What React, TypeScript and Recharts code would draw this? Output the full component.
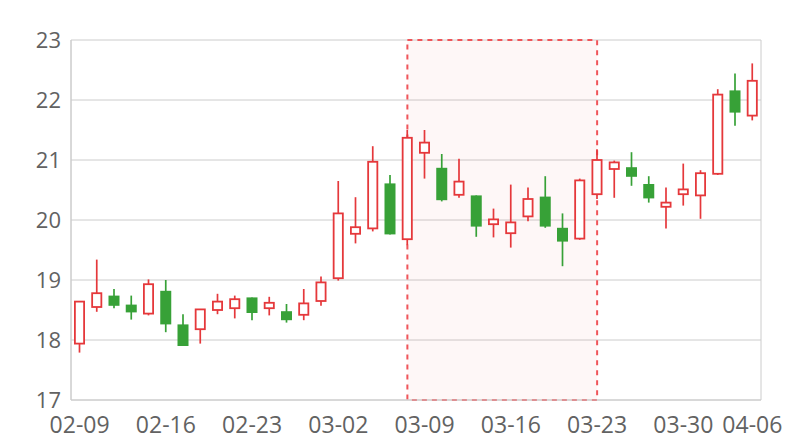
import { ComposedChart, Bar, XAxis, YAxis, CartesianGrid, ReferenceArea } from "recharts";

const dates = [
  "02-09", "02-10", "02-11", "02-12", "02-13",
  "02-16", "02-17", "02-18", "02-19", "02-20",
  "02-23", "02-24", "02-25", "02-26", "02-27",
  "03-02", "03-03", "03-04", "03-05", "03-06",
  "03-09", "03-10", "03-11", "03-12", "03-13",
  "03-16", "03-17", "03-18", "03-19", "03-20",
  "03-23", "03-24", "03-25", "03-26", "03-27",
  "03-30", "03-31", "04-01", "04-02", "04-06",
];

const open = [17.94, 18.55, 18.74, 18.59, 18.44, 18.82, 18.26, 18.18, 18.5, 18.53, 18.71, 18.53, 18.48, 18.42, 18.65, 19.03, 19.77, 19.86, 20.61, 19.68, 21.12, 20.87, 20.42, 20.41, 19.93, 19.78, 20.06, 20.39, 19.87, 19.69, 20.43, 20.85, 20.88, 20.6, 20.22, 20.43, 20.41, 20.77, 22.16, 21.74];
const close = [18.64, 18.78, 18.57, 18.46, 18.93, 18.26, 17.9, 18.51, 18.64, 18.68, 18.45, 18.62, 18.33, 18.61, 18.96, 20.11, 19.88, 20.97, 19.76, 21.37, 21.29, 20.33, 20.64, 19.89, 20.01, 19.96, 20.35, 19.89, 19.64, 20.66, 21.0, 20.96, 20.72, 20.36, 20.29, 20.51, 20.78, 22.09, 21.79, 22.32];
const high = [18.65, 19.34, 18.85, 18.74, 19.01, 19.0, 18.43, 18.51, 18.77, 18.74, 18.71, 18.72, 18.6, 18.85, 19.06, 20.65, 20.38, 21.23, 20.75, 21.5, 21.5, 21.1, 21.02, 20.41, 20.19, 20.59, 20.54, 20.73, 20.11, 20.69, 21.18, 20.99, 21.13, 20.73, 20.54, 20.94, 20.83, 22.18, 22.44, 22.61];
const low = [17.79, 18.47, 18.53, 18.34, 18.41, 18.13, 17.9, 17.94, 18.43, 18.36, 18.33, 18.41, 18.29, 18.33, 18.57, 18.99, 19.61, 19.81, 19.76, 19.58, 20.69, 20.31, 20.37, 19.72, 19.71, 19.54, 19.98, 19.87, 19.23, 19.67, 20.35, 20.37, 20.57, 20.29, 19.86, 20.24, 20.02, 20.75, 21.57, 21.66];

const xTicks = ["02-09", "02-16", "02-23", "03-02", "03-09", "03-16", "03-23", "03-30", "04-06"];
const yTicks = [17, 18, 19, 20, 21, 22, 23];
const highlight = ["03-06", "03-23"];

const RED = "#e5383b";
const GREEN = "#37a137";

const data = dates.map((date, i) => ({
  date,
  idx: i,
  open: open[i],
  close: close[i],
  high: high[i],
  low: low[i],
}));

// candle drawn inside the [low, high] bar rect
const Candle = (props: any) => {
  const { x, y, width, height, payload } = props;
  const { open, close, high, low } = payload;
  const k = high - low > 0 ? height / (high - low) : 0;
  const py = (v: number) => y + (high - v) * k;
  const up = close >= open;
  const color = up ? RED : GREEN;
  const cx = x + width / 2;
  const top = py(Math.max(open, close));
  const bot = Math.max(py(Math.min(open, close)), top + 1);
  const sw = 1.8;
  if (up) {
    return (
      <g>
        <line x1={cx} x2={cx} y1={py(high)} y2={top} stroke={color} strokeWidth={1.7} />
        <line x1={cx} x2={cx} y1={bot} y2={py(low)} stroke={color} strokeWidth={1.7} />
        <rect x={x + sw / 2} y={top} width={width - sw} height={bot - top} fill="#fff" stroke={color} strokeWidth={sw} />
      </g>
    );
  }
  return (
    <g>
      <line x1={cx} x2={cx} y1={py(high)} y2={py(low)} stroke={color} strokeWidth={1.7} />
      <rect x={x} y={top} width={width} height={bot - top} fill={color} />
    </g>
  );
};

export default function App() {
  return (
    <div style={{ position: "absolute", left: 0, top: 0, background: "#fff" }}>
      <ComposedChart width={800} height={440} data={data} margin={{ top: 40, right: 39, bottom: 10, left: 0 }}>
        <CartesianGrid
          stroke="#ccc"
          verticalCoordinatesGenerator={({ offset }: any) => [offset.left, offset.left + offset.width]}
        />
        <XAxis
          dataKey="date"
          ticks={xTicks}
          interval={0}
          axisLine={{ stroke: "#ccc" }}
          tickLine={false}
          tickMargin={11}
          height={30}
          tick={{ fontSize: 23, fill: "#626262", fontFamily: "Open Sans" }}
        />
        <XAxis xAxisId="idx" dataKey="idx" type="number" domain={[-0.5, dates.length - 0.5]} hide />
        <YAxis
          domain={[17, 23]}
          ticks={yTicks}
          axisLine={{ stroke: "#ccc" }}
          tickLine={false}
          tickMargin={4}
          width={71}
          tick={{ fontSize: 22, fill: "#626262", fontFamily: "Open Sans" }}
        />
        <ReferenceArea
          xAxisId="idx"
          x1={dates.indexOf(highlight[0])}
          x2={dates.indexOf(highlight[1])}
          fill="#f05050"
          fillOpacity={0.045}
          stroke="#f0555a"
          strokeWidth={2}
          strokeDasharray="5 5"
        />
        <Bar
          dataKey={(d: any) => [d.low, d.high]}
          barSize={11}
          shape={Candle}
          isAnimationActive={false}
        />
      </ComposedChart>
    </div>
  );
}
